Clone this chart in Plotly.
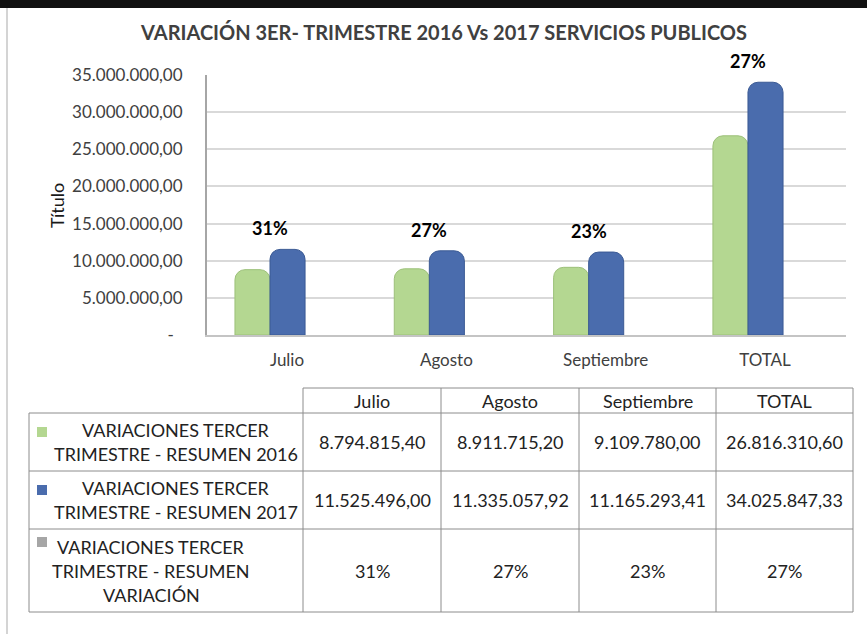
import plotly.graph_objects as go

# ── data ──────────────────────────────────────────────────────────────
MONTHS = ["Julio", "Agosto", "Septiembre", "TOTAL"]
RESUMEN_2016 = [8794815.40, 8911715.20, 9109780.00, 26816310.60]
RESUMEN_2017 = [11525496.00, 11335057.92, 11165293.41, 34025847.33]
VARIACION = ["31%", "27%", "23%", "27%"]

Y_TICKS = [0, 5e6, 10e6, 15e6, 20e6, 25e6, 30e6, 35e6]
Y_TICK_TEXT = ["-\u00a0\u00a0", "5.000.000,00", "10.000.000,00", "15.000.000,00",
               "20.000.000,00", "25.000.000,00", "30.000.000,00", "35.000.000,00"]

SERIES_LABELS = [
    ["VARIACIONES TERCER", "TRIMESTRE - RESUMEN 2016"],
    ["VARIACIONES TERCER", "TRIMESTRE - RESUMEN 2017"],
    ["VARIACIONES TERCER", "TRIMESTRE - RESUMEN", "VARIACIÓN"],
]

TITLE = "VARIACIÓN 3ER- TRIMESTRE 2016 Vs 2017 SERVICIOS PUBLICOS"

# ── style ─────────────────────────────────────────────────────────────
W, H = 867, 634
FONT = "Lato, 'Open Sans', sans-serif"
GREEN = "#b4d791"
BLUE = "#4a6cad"
GRAY_ICON = "#a6a6a6"
TEXT = "#404040"
TABLE_TEXT = "#222222"
BORDER = "#8c8c8c"


def px(x):
    return x / W


def py(y):
    return 1 - y / H


def es_num(v):
    s = f"{v:,.2f}"
    return s.replace(",", "#").replace(".", ",").replace("#", ".")


def note(x, y, text, font, **kw):
    # paper-anchored text, centred on the given pixel position
    d = dict(x=px(x), y=py(y), xref="paper", yref="paper", text=text,
             showarrow=False, xanchor="center", yanchor="middle", font=font)
    d.update(kw)
    return d


fig = go.Figure()

fig.add_trace(go.Bar(
    x=MONTHS, y=RESUMEN_2016, name="2016",
    marker=dict(color=GREEN, line=dict(color="#9cc079", width=1)),
))
fig.add_trace(go.Bar(
    x=MONTHS, y=RESUMEN_2017, name="2017",
    marker=dict(color=BLUE, line=dict(color="#3b5a94", width=1)),
))

annotations = []
shapes = []

# percentage labels above each group
for m, a, b, t in zip(MONTHS, RESUMEN_2016, RESUMEN_2017, VARIACION):
    annotations.append(dict(
        x=m, y=max(a, b), xref="x", yref="y", text=f"<b>{t}</b>",
        showarrow=False, xanchor="center", yanchor="middle", yshift=21,
        font=dict(family=FONT, size=18, color="#000000"),
    ))

# title + axis title
annotations.append(note(443, 32, f"<b>{TITLE}</b>",
                        dict(family=FONT, size=20, color=TEXT)))
annotations.append(note(57, 205, "Título",
                        dict(family=FONT, size=18, color="#1a1a1a"), textangle=-90))

# ── data table below the chart ───────────────────────────────────────
COL_EDGES = [303, 441, 579, 716, 853]
ROW_EDGES = [413, 471, 529, 612]
LABEL_LEFT = 29
HEAD_TOP = 388
line = dict(color=BORDER, width=1)


def hline(y, x0, x1, **kw):
    return dict(type="line", xref="paper", yref="paper",
                x0=px(x0), x1=px(x1), y0=py(y), y1=py(y), **kw)


def vline(x, y0, y1, **kw):
    return dict(type="line", xref="paper", yref="paper",
                x0=px(x), x1=px(x), y0=py(y0), y1=py(y1), **kw)


shapes.append(hline(HEAD_TOP, COL_EDGES[0], COL_EDGES[-1], line=line))
for yy in ROW_EDGES:
    shapes.append(hline(yy, LABEL_LEFT, COL_EDGES[-1], line=line))
shapes.append(vline(LABEL_LEFT, ROW_EDGES[0], ROW_EDGES[-1], line=line))
for xx in COL_EDGES:
    shapes.append(vline(xx, HEAD_TOP, ROW_EDGES[-1], line=line))

cell_font = dict(family=FONT, size=18, color=TABLE_TEXT)

# header
for i, m in enumerate(MONTHS):
    cx = (COL_EDGES[i] + COL_EDGES[i + 1]) / 2
    annotations.append(note(cx, (HEAD_TOP + ROW_EDGES[0]) / 2, m, cell_font))

rows = [
    [es_num(v) for v in RESUMEN_2016],
    [es_num(v) for v in RESUMEN_2017],
    VARIACION,
]
icon_colors = [GREEN, BLUE, GRAY_ICON]
icon_y = [432, 490, 542]
label_cx = [176, 176, 151]

for r, cells in enumerate(rows):
    top, bot = ROW_EDGES[r], ROW_EDGES[r + 1]
    cy = (top + bot) / 2
    for i, txt in enumerate(cells):
        cx = (COL_EDGES[i] + COL_EDGES[i + 1]) / 2
        annotations.append(note(cx, cy, txt, cell_font))
    # legend key
    shapes.append(dict(type="rect", xref="paper", yref="paper",
                       x0=px(37), x1=px(47), y0=py(icon_y[r] - 5), y1=py(icon_y[r] + 5),
                       fillcolor=icon_colors[r], line=dict(width=0)))
    # series name, one annotation per line
    lines = SERIES_LABELS[r]
    step = 24
    first = cy - step * (len(lines) - 1) / 2
    for k, ln in enumerate(lines):
        annotations.append(note(label_cx[r], first + k * step, ln, cell_font))

# outer frame of the picture
shapes.append(dict(type="rect", xref="paper", yref="paper", layer="above",
                   x0=0, x1=1, y0=py(8), y1=py(0),
                   fillcolor="#111111", line=dict(width=0)))
shapes.append(vline(7, 8, H, line=dict(color="#d4d4d4", width=2)))

cat_span = 159.3
fig.update_layout(
    width=W, height=H,
    margin=dict(l=0, r=0, t=0, b=0, autoexpand=False),
    paper_bgcolor="white", plot_bgcolor="white",
    barmode="group", bargap=0.56, bargroupgap=0, barcornerradius=10,
    showlegend=False,
    font=dict(family=FONT, color=TEXT),
    xaxis=dict(
        domain=[px(207), px(846)],
        range=[-(270 - 207) / cat_span, 3 + (846 - 748) / cat_span],
        showgrid=False, zeroline=False,
        showline=True, linecolor="#c4c4c4", linewidth=2,
        ticks="", ticklabelshift=17, ticklabelstandoff=9,
        tickfont=dict(family=FONT, size=17, color=TEXT),
        fixedrange=True,
    ),
    yaxis=dict(
        domain=[py(335), py(75)],
        range=[0, 35e6],
        tickvals=Y_TICKS, ticktext=Y_TICK_TEXT,
        showgrid=True, gridcolor="#d9d9d9", gridwidth=2,
        zeroline=False,
        showline=True, linecolor="#a6a6a6", linewidth=2,
        ticks="", ticklabelstandoff=19,
        tickfont=dict(family=FONT, size=17, color=TEXT),
        fixedrange=True,
    ),
    shapes=shapes,
    annotations=annotations,
)

fig.write_html("out.html", config={"displayModeBar": False},
               post_script="document.body.style.margin='0';")
